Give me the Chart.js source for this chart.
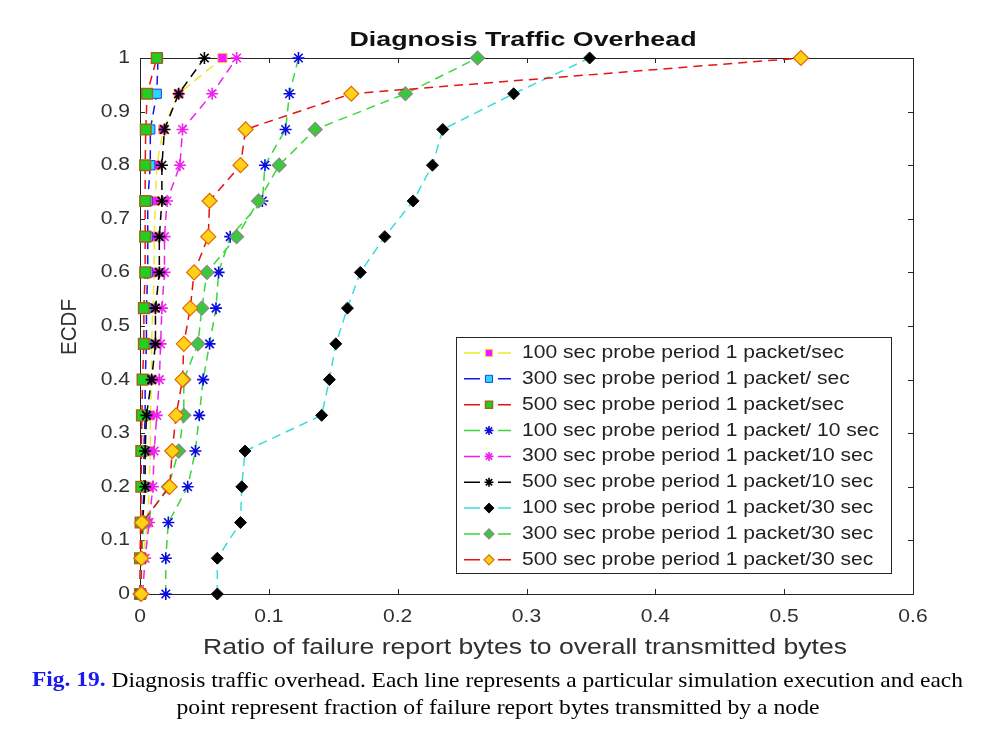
<!DOCTYPE html>
<html>
<head>
<meta charset="utf-8">
<title>Diagnosis Traffic Overhead</title>
<script src="https://cdn.jsdelivr.net/npm/chart.js@4.4.1/dist/chart.umd.min.js"></script>
<style>
  html, body { margin: 0; padding: 0; background: #fff; }
  #wrap { width: 1001px; height: 753px; position: relative; }
</style>
</head>
<body>
<div id="wrap"><canvas id="chart" width="1001" height="753"></canvas></div>
<script>
// ECDF levels (one step per node, 15 nodes)
const ecdfLevels = [0, 0.0667, 0.1333, 0.2, 0.2667, 0.3333, 0.4, 0.4667, 0.5333, 0.6, 0.6667, 0.7333, 0.8, 0.8667, 0.9333, 1];

// Legend labels, same order as the series below
const seriesNames = [
  '100 sec probe period 1 packet/sec',
  '300 sec probe period 1 packet/ sec',
  '500 sec probe period 1 packet/sec',
  '100 sec probe period 1 packet/ 10 sec',
  '300 sec probe period 1 packet/10 sec',
  '500 sec probe period 1 packet/10 sec',
  '100 sec probe period 1 packet/30 sec',
  '300 sec probe period 1 packet/30 sec',
  '500 sec probe period 1 packet/30 sec'
];

// Ratio of failure report bytes per node (x values)
const p100s1 = [0, 0.002, 0.006, 0.007, 0.008, 0.008, 0.009, 0.009, 0.010, 0.011, 0.011, 0.012, 0.013, 0.018, 0.030, 0.064];
const p300s1 = [0, 0.001, 0.002, 0.003, 0.003, 0.004, 0.004, 0.005, 0.005, 0.006, 0.006, 0.006, 0.008, 0.008, 0.013, 0.014];
const p500s1 = [0, 0, 0.0005, 0.001, 0.001, 0.0015, 0.002, 0.003, 0.003, 0.004, 0.004, 0.004, 0.004, 0.0045, 0.0055, 0.013];
const p100s10 = [0.020, 0.020, 0.022, 0.037, 0.043, 0.046, 0.049, 0.054, 0.059, 0.061, 0.070, 0.095, 0.097, 0.113, 0.116, 0.123];
const p300s10 = [0.002, 0.004, 0.007, 0.010, 0.011, 0.013, 0.015, 0.016, 0.017, 0.019, 0.019, 0.021, 0.031, 0.033, 0.056, 0.075];
const p500s10 = [0, 0.001, 0.002, 0.004, 0.004, 0.005, 0.009, 0.012, 0.012, 0.015, 0.015, 0.017, 0.017, 0.019, 0.030, 0.050];
const p100s30 = [0.060, 0.060, 0.078, 0.079, 0.0815, 0.141, 0.147, 0.152, 0.161, 0.171, 0.190, 0.212, 0.227, 0.235, 0.290, 0.349];
const p300s30 = [0, 0.001, 0.003, 0.022, 0.030, 0.034, 0.034, 0.045, 0.048, 0.052, 0.075, 0.092, 0.108, 0.136, 0.206, 0.262];
const p500s30 = [0.001, 0.001, 0.0015, 0.023, 0.025, 0.028, 0.033, 0.034, 0.039, 0.042, 0.053, 0.054, 0.078, 0.082, 0.164, 0.513];
const seriesX = [p100s1, p300s1, p500s1, p100s10, p300s10, p500s10, p100s30, p300s30, p500s30];

// Tick values and labels
const xTickValues = [0, 0.1, 0.2, 0.3, 0.4, 0.5, 0.6];
const xTickLabels = ['0', '0.1', '0.2', '0.3', '0.4', '0.5', '0.6'];
const yTickValues = [0, 0.1, 0.2, 0.3, 0.4, 0.5, 0.6, 0.7, 0.8, 0.9, 1];
const yTickLabels = ['0', '0.1', '0.2', '0.3', '0.4', '0.5', '0.6', '0.7', '0.8', '0.9', '1'];

// Line / marker styles (MATLAB-ish)
const styles = [
  { line: '#ecea2a', style: 'rect',    radius: 6.5, fill: '#ff14ff', edge: '#f0d040', bw: 1 },
  { line: '#1515e6', style: 'rect',    radius: 6.5, fill: '#28d8ff', edge: '#1a40e0', bw: 1 },
  { line: '#e41414', style: 'rect',    radius: 7.5, fill: '#20d020', edge: '#9a6a18', bw: 1.5 },
  { line: '#38d838', style: 'star',    radius: 6,   fill: '#0a0ae0', edge: '#0a0ae0', bw: 1.6 },
  { line: '#f020f0', style: 'star',    radius: 6,   fill: '#f020f0', edge: '#f020f0', bw: 1.6 },
  { line: '#000000', style: 'star',    radius: 6,   fill: '#000000', edge: '#000000', bw: 1.6 },
  { line: '#3adcdc', style: 'rectRot', radius: 6,   fill: '#000000', edge: '#0a0a0a', bw: 1 },
  { line: '#38d838', style: 'rectRot', radius: 7,   fill: '#3cc83c', edge: '#8a8a8a', bw: 1.2 },
  { line: '#e41414', style: 'rectRot', radius: 7.5, fill: '#ffd21a', edge: '#e06a00', bw: 1.2 }
];

const TEXT_DARK = '#303030';
const SANS = '"Liberation Sans", Arial, sans-serif';
const SERIF = '"Liberation Serif", "Times New Roman", serif';

// draw text stretched horizontally (either by factor or to a target width)
function stretchText(ctx, str, x, y, opts) {
  ctx.save();
  ctx.font = opts.font;
  ctx.fillStyle = opts.color || TEXT_DARK;
  ctx.textBaseline = 'middle';
  ctx.textAlign = 'left';
  const w = ctx.measureText(str).width;
  const sx = opts.width ? opts.width / w : (opts.sx || 1);
  const total = w * sx;
  let left = x;
  if (opts.align === 'center') left = x - total / 2;
  else if (opts.align === 'right') left = x - total;
  ctx.translate(left, y);
  ctx.scale(sx, 1);
  ctx.fillText(str, 0, 0);
  ctx.restore();
}

function marker(ctx, st, x, y, r) {
  ctx.save();
  ctx.fillStyle = st.fill;
  ctx.strokeStyle = st.edge;
  ctx.lineWidth = st.bw;
  ctx.setLineDash([]);
  Chart.helpers.drawPoint(ctx, { pointStyle: st.style, radius: r, rotation: 0, borderWidth: st.bw }, x, y);
  ctx.restore();
}

const figurePlugin = {
  id: 'figure',
  beforeDatasetsDraw(chart) {
    const { ctx, chartArea: a, scales: { x, y } } = chart;
    ctx.save();
    ctx.strokeStyle = '#262626';
    ctx.lineWidth = 1;
    ctx.strokeRect(a.left + 0.5, a.top + 0.5, a.right - a.left, a.bottom - a.top);
    const tl = 5;
    ctx.beginPath();
    xTickValues.forEach(v => {
      const px = Math.round(x.getPixelForValue(v)) + 0.5;
      ctx.moveTo(px, a.bottom); ctx.lineTo(px, a.bottom - tl);
      ctx.moveTo(px, a.top); ctx.lineTo(px, a.top + tl);
    });
    yTickValues.forEach(v => {
      const py = Math.round(y.getPixelForValue(v)) + 0.5;
      ctx.moveTo(a.left, py); ctx.lineTo(a.left + tl, py);
      ctx.moveTo(a.right, py); ctx.lineTo(a.right - tl, py);
    });
    ctx.stroke();
    ctx.restore();
  },
  afterDatasetsDraw(chart) {
    const { ctx } = chart;
    // legend box
    const box = { left: 456, top: 337, right: 891, bottom: 573 };
    ctx.save();
    ctx.fillStyle = '#ffffff';
    ctx.fillRect(box.left, box.top, box.right - box.left, box.bottom - box.top);
    ctx.strokeStyle = '#262626';
    ctx.lineWidth = 1;
    ctx.strokeRect(box.left + 0.5, box.top + 0.5, box.right - box.left, box.bottom - box.top);
    ctx.restore();
    seriesNames.forEach((name, i) => {
      const st = styles[i];
      const ry = 353 + i * 25.85;
      ctx.save();
      ctx.strokeStyle = st.line;
      ctx.lineWidth = 1.5;
      ctx.beginPath();
      ctx.moveTo(464, ry); ctx.lineTo(480, ry);
      ctx.moveTo(498, ry); ctx.lineTo(511, ry);
      ctx.stroke();
      ctx.restore();
      marker(ctx, st, 489, ry, st.style === 'star' ? 4.5 : 5);
      stretchText(ctx, name, 522, ry, { font: '18px ' + SANS, sx: 1.17, color: '#222222' });
    });
  },
  afterDraw(chart) {
    const { ctx, chartArea: a, scales: { x, y } } = chart;
    const tickFont = '18px ' + SANS;
    xTickValues.forEach((v, i) => {
      stretchText(ctx, xTickLabels[i], x.getPixelForValue(v), 617, { font: tickFont, sx: 1.17, align: 'center' });
    });
    yTickValues.forEach((v, i) => {
      stretchText(ctx, yTickLabels[i], a.left - 10, y.getPixelForValue(v), { font: tickFont, sx: 1.17, align: 'right' });
    });
    // title
    stretchText(ctx, 'Diagnosis Traffic Overhead', 523, 40, { font: 'bold 20px ' + SANS, width: 347, align: 'center', color: '#111111' });
    // axis titles
    stretchText(ctx, 'Ratio of failure report bytes to overall transmitted bytes', 525, 648,
      { font: '22px ' + SANS, width: 644, align: 'center' });
    ctx.save();
    ctx.translate(70, 327);
    ctx.rotate(-Math.PI / 2);
    stretchText(ctx, 'ECDF', 0, 0, { font: '22px ' + SANS, width: 56, align: 'center' });
    ctx.restore();
    // caption
    ctx.save();
    const figPart = 'Fig. 19.';
    const restPart = ' Diagnosis traffic overhead. Each line represents a particular simulation execution and each';
    ctx.font = 'bold 21px ' + SERIF;
    const w1 = ctx.measureText(figPart).width;
    ctx.font = '21px ' + SERIF;
    const w2 = ctx.measureText(restPart).width;
    const sx = 931 / (w1 + w2);
    ctx.translate(32, 681);
    ctx.scale(sx, 1);
    ctx.textBaseline = 'middle';
    ctx.font = 'bold 21px ' + SERIF;
    ctx.fillStyle = '#1a1aee';
    ctx.fillText(figPart, 0, 0);
    ctx.font = '21px ' + SERIF;
    ctx.fillStyle = '#000000';
    ctx.fillText(restPart, w1, 0);
    ctx.restore();
    stretchText(ctx, 'point represent fraction of failure report bytes transmitted by a node', 498, 708,
      { font: '21px ' + SERIF, width: 643, align: 'center', color: '#000000' });
  }
};

const datasets = seriesX.map((xs, i) => {
  const st = styles[i];
  return {
    label: seriesNames[i],
    data: xs.map((v, k) => ({ x: v, y: ecdfLevels[k] })),
    showLine: true,
    borderColor: st.line,
    borderWidth: 1.5,
    borderDash: [9, 6],
    backgroundColor: st.fill,
    pointStyle: st.style,
    pointRadius: st.radius,
    pointBackgroundColor: st.fill,
    pointBorderColor: st.edge,
    pointBorderWidth: st.bw,
    tension: 0,
    clip: false,
    order: seriesX.length - 1 - i
  };
});

new Chart(document.getElementById('chart').getContext('2d'), {
  type: 'scatter',
  data: { datasets },
  options: {
    responsive: false,
    animation: false,
    devicePixelRatio: 1,
    layout: { padding: { top: 58, right: 88, left: 0, bottom: 0 } },
    scales: {
      x: {
        type: 'linear', min: 0, max: 0.6,
        grid: { display: false, drawTicks: false },
        border: { display: false },
        ticks: { display: false },
        afterFit: s => { s.height = 159; }
      },
      y: {
        type: 'linear', min: 0, max: 1,
        grid: { display: false, drawTicks: false },
        border: { display: false },
        ticks: { display: false },
        afterFit: s => { s.width = 140; }
      }
    },
    plugins: {
      legend: { display: false },
      title: { display: false },
      tooltip: { enabled: false }
    }
  },
  plugins: [figurePlugin]
});
</script>
</body>
</html>
